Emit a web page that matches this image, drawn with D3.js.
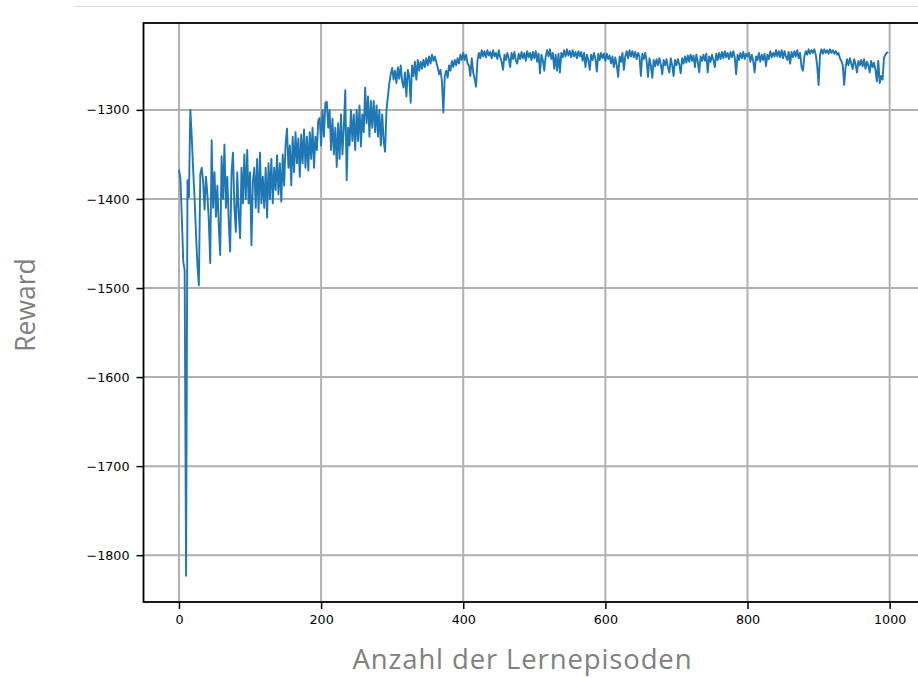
<!DOCTYPE html>
<html>
<head>
<meta charset="utf-8">
<script src="https://cdn.jsdelivr.net/npm/d3@7"></script>
<style>
  body { margin: 0; background: #fff; }
  svg { display: block; }
</style>
</head>
<body>
<svg id="chart" width="918" height="677"></svg>
<script>
// Reward per learning episode, one value every `episodeStep` episodes.
const episodeStep = 2;
const rewards = [
  -1367, -1377, -1420, -1470, -1480, -1823, -1379, -1398, -1300, -1330, // 0-18
  -1368, -1400, -1440, -1475, -1497, -1372, -1365, -1380, -1412, -1375, // 20-38
  -1395, -1425, -1472, -1334, -1410, -1370, -1420, -1385, -1430, -1463, // 40-58
  -1352, -1400, -1339, -1410, -1375, -1425, -1459, -1370, -1348, -1410, // 60-78
  -1437, -1370, -1415, -1444, -1365, -1405, -1350, -1400, -1345, -1405, // 80-98
  -1370, -1452, -1380, -1365, -1410, -1355, -1415, -1348, -1405, -1375, // 100-118
  -1410, -1365, -1421, -1360, -1400, -1355, -1405, -1365, -1390, -1351, // 120-138
  -1395, -1360, -1403, -1350, -1385, -1339, -1321, -1365, -1340, -1385, // 140-158
  -1330, -1370, -1325, -1360, -1332, -1375, -1328, -1360, -1322, -1365, // 160-178
  -1330, -1368, -1325, -1355, -1320, -1365, -1330, -1345, -1312, -1309, // 180-198
  -1340, -1300, -1330, -1292, -1291, -1320, -1300, -1345, -1310, -1350, // 200-218
  -1320, -1364, -1315, -1355, -1305, -1350, -1320, -1278, -1379, -1320, // 220-238
  -1340, -1300, -1335, -1305, -1345, -1300, -1335, -1295, -1341, -1305, // 240-258
  -1325, -1275, -1315, -1285, -1330, -1290, -1320, -1290, -1325, -1295, // 260-278
  -1330, -1300, -1340, -1305, -1335, -1347, -1300, -1285, -1270, -1260, // 280-298
  -1253, -1266, -1256, -1270, -1252, -1265, -1250, -1268, -1275, -1258, // 300-318
  -1285, -1255, -1262, -1292, -1250, -1262, -1246, -1266, -1244, -1256, // 320-338
  -1246, -1254, -1244, -1252, -1242, -1250, -1240, -1248, -1238, -1245, // 340-358
  -1240, -1246, -1252, -1260, -1255, -1268, -1303, -1262, -1256, -1264, // 360-378
  -1250, -1256, -1245, -1252, -1244, -1250, -1242, -1248, -1238, -1244, // 380-398
  -1236, -1244, -1238, -1248, -1250, -1262, -1242, -1258, -1265, -1274, // 400-418
  -1245, -1236, -1242, -1233, -1240, -1234, -1241, -1233, -1239, -1235, // 420-438
  -1242, -1233, -1240, -1236, -1243, -1233, -1241, -1246, -1255, -1238, // 440-458
  -1244, -1236, -1242, -1252, -1236, -1243, -1235, -1245, -1248, -1237, // 460-478
  -1243, -1235, -1242, -1236, -1245, -1234, -1241, -1236, -1244, -1235, // 480-498
  -1242, -1234, -1246, -1237, -1259, -1238, -1244, -1256, -1240, -1233, // 500-518
  -1240, -1232, -1243, -1236, -1254, -1238, -1256, -1237, -1258, -1236, // 520-538
  -1241, -1233, -1240, -1232, -1239, -1234, -1241, -1233, -1240, -1235, // 540-558
  -1242, -1234, -1240, -1235, -1245, -1236, -1252, -1238, -1244, -1255, // 560-578
  -1238, -1244, -1236, -1243, -1257, -1237, -1244, -1236, -1242, -1237, // 580-598
  -1245, -1237, -1243, -1239, -1248, -1240, -1252, -1241, -1250, -1263, // 600-618
  -1240, -1246, -1236, -1255, -1240, -1234, -1242, -1233, -1240, -1234, // 620-638
  -1241, -1235, -1243, -1236, -1240, -1262, -1237, -1243, -1236, -1245, // 640-658
  -1263, -1242, -1250, -1264, -1244, -1251, -1243, -1250, -1242, -1249, // 660-678
  -1260, -1244, -1250, -1243, -1252, -1258, -1242, -1250, -1262, -1244, // 680-698
  -1250, -1243, -1249, -1259, -1242, -1248, -1240, -1247, -1239, -1246, // 700-718
  -1238, -1245, -1239, -1252, -1238, -1246, -1258, -1240, -1245, -1238, // 720-738
  -1245, -1237, -1258, -1240, -1246, -1238, -1244, -1252, -1237, -1244, // 740-758
  -1236, -1243, -1235, -1242, -1234, -1241, -1236, -1243, -1235, -1241, // 760-778
  -1234, -1241, -1260, -1238, -1244, -1236, -1242, -1235, -1243, -1237, // 780-798
  -1240, -1236, -1246, -1238, -1245, -1258, -1240, -1244, -1236, -1246, // 800-818
  -1238, -1244, -1237, -1251, -1238, -1243, -1234, -1241, -1236, -1240, // 820-838
  -1233, -1240, -1234, -1241, -1233, -1242, -1234, -1240, -1244, -1235, // 840-858
  -1248, -1235, -1241, -1234, -1240, -1233, -1242, -1236, -1252, -1256, // 860-878
  -1240, -1234, -1238, -1232, -1237, -1233, -1236, -1232, -1238, -1250, // 880-898
  -1272, -1238, -1232, -1237, -1232, -1236, -1233, -1237, -1232, -1236, // 900-918
  -1233, -1237, -1234, -1238, -1236, -1242, -1245, -1250, -1272, -1252, // 920-938
  -1243, -1250, -1242, -1248, -1254, -1243, -1249, -1258, -1245, -1250, // 940-958
  -1244, -1251, -1243, -1254, -1246, -1250, -1258, -1245, -1252, -1247, // 960-978
  -1255, -1268, -1245, -1270, -1262, -1266, -1242, -1238, -1236, -1235  // 980-998
];
const xTicks = [0, 200, 400, 600, 800, 1000];
const yTicks = [-1800, -1700, -1600, -1500, -1400, -1300];
const xTitle = "Anzahl der Lernepisoden";
const yTitle = "Reward";

const svg = d3.select("#chart");
const plot = { left: 143.5, right: 923.7, top: 23, bottom: 602 };

const episodes = rewards.map((_, i) => i * episodeStep);
// 5% margin on both sides of the data range
const padded = ([lo, hi]) => { const m = (hi - lo) * 0.05; return [lo - m, hi + m]; };

const x = d3.scaleLinear().domain(padded(d3.extent(episodes))).range([plot.left, plot.right]);
const y = d3.scaleLinear().domain(padded(d3.extent(rewards))).range([plot.bottom, plot.top]);

// thin separator at the top of the page
svg.append("line")
  .attr("x1", 74).attr("x2", 918).attr("y1", 6.5).attr("y2", 6.5)
  .attr("stroke", "#dcdcdc").attr("stroke-width", 1);

// grid
const grid = svg.append("g").attr("stroke", "#b0b0b0").attr("stroke-width", 2);
grid.selectAll("line.gx").data(xTicks).join("line").attr("class", "gx")
  .attr("x1", d => x(d)).attr("x2", d => x(d))
  .attr("y1", plot.top).attr("y2", plot.bottom);
grid.selectAll("line.gy").data(yTicks).join("line").attr("class", "gy")
  .attr("x1", plot.left).attr("x2", plot.right)
  .attr("y1", d => y(d)).attr("y2", d => y(d));

// reward curve
const line = d3.line().x((d, i) => x(episodes[i])).y(d => y(d));
svg.append("path")
  .datum(rewards)
  .attr("d", line)
  .attr("fill", "none")
  .attr("stroke", "#1f77b4")
  .attr("stroke-width", 1.9)
  .attr("stroke-linejoin", "round");

// axes
const fmt = d3.format("d");
const xAxis = svg.append("g")
  .attr("transform", `translate(0,${plot.bottom})`)
  .call(d3.axisBottom(x).tickValues(xTicks).tickFormat(fmt).tickSize(7).tickPadding(6));
const yAxis = svg.append("g")
  .attr("transform", `translate(${plot.left},0)`)
  .call(d3.axisLeft(y).tickValues(yTicks).tickFormat(fmt).tickSize(7).tickPadding(7));

[xAxis, yAxis].forEach(g => {
  g.select(".domain").remove();
  g.selectAll(".tick line").attr("stroke", "#000").attr("stroke-width", 1.5);
  g.selectAll(".tick text")
    .attr("fill", "#000")
    .style("font-family", "'DejaVu Sans', sans-serif")
    .style("font-size", "12.7px");
});

// frame
svg.append("rect")
  .attr("x", plot.left).attr("y", plot.top)
  .attr("width", plot.right - plot.left).attr("height", plot.bottom - plot.top)
  .attr("fill", "none").attr("stroke", "#000").attr("stroke-width", 1.8);

// axis titles
svg.append("text")
  .attr("x", 522).attr("y", 669)
  .attr("text-anchor", "middle")
  .attr("textLength", 339)
  .attr("lengthAdjust", "spacing")
  .attr("fill", "#808080")
  .style("font-family", "'Open Sans', sans-serif")
  .style("font-size", "27.5px")
  .text(xTitle);

svg.append("text")
  .attr("transform", "translate(35,305) rotate(-90)")
  .attr("text-anchor", "middle")
  .attr("fill", "#808080")
  .style("font-family", "'Open Sans', sans-serif")
  .style("font-size", "26.5px")
  .text(yTitle);
</script>
</body>
</html>
